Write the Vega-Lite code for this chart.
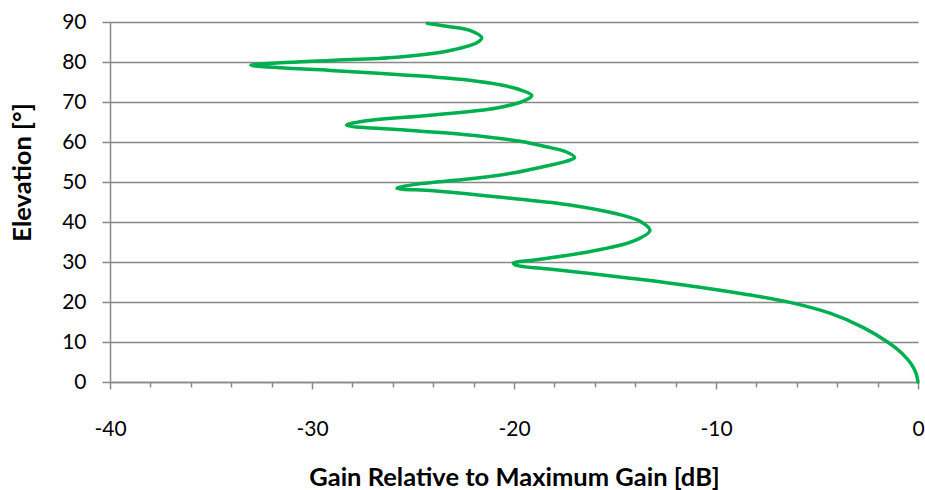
{
  "$schema": "https://vega.github.io/schema/vega-lite/v6.json",
  "width": 808,
  "height": 360,
  "autosize": {"type": "none"},
  "padding": {"left": 110, "top": 22, "right": 7, "bottom": 108},
  "background": "white",
  "config": {"view": {"stroke": null}, "font": "Lato"},
  "data": {
    "values": [
      {"i": 0, "gain": 0, "elev": 0},
      {"i": 1, "gain": -0.1, "elev": 2.2},
      {"i": 2, "gain": -0.35, "elev": 4.6},
      {"i": 3, "gain": -0.8, "elev": 7.2},
      {"i": 4, "gain": -1.45, "elev": 9.8},
      {"i": 5, "gain": -2.7, "elev": 13.6},
      {"i": 6, "gain": -4.36, "elev": 17.2},
      {"i": 7, "gain": -6.34, "elev": 19.9},
      {"i": 8, "gain": -8.48, "elev": 21.9},
      {"i": 9, "gain": -11.78, "elev": 24.4},
      {"i": 10, "gain": -15.08, "elev": 26.45},
      {"i": 11, "gain": -18.38, "elev": 28.3},
      {"i": 12, "gain": -19.87, "elev": 29.15},
      {"i": 13, "gain": -20.03, "elev": 29.7},
      {"i": 14, "gain": -19.0, "elev": 30.5},
      {"i": 15, "gain": -16.57, "elev": 32.3},
      {"i": 16, "gain": -14.09, "elev": 35.2},
      {"i": 17, "gain": -13.27, "elev": 37.9},
      {"i": 18, "gain": -13.76, "elev": 40.2},
      {"i": 19, "gain": -14.92, "elev": 42.05},
      {"i": 20, "gain": -17.4, "elev": 44.4},
      {"i": 21, "gain": -20.9, "elev": 46.3},
      {"i": 22, "gain": -23.99, "elev": 47.8},
      {"i": 23, "gain": -25.8, "elev": 48.45},
      {"i": 24, "gain": -24.6, "elev": 49.6},
      {"i": 25, "gain": -22.5, "elev": 50.6},
      {"i": 26, "gain": -20.0, "elev": 52.3},
      {"i": 27, "gain": -18.4, "elev": 54.0},
      {"i": 28, "gain": -17.4, "elev": 55.2},
      {"i": 29, "gain": -17.0, "elev": 56.1},
      {"i": 30, "gain": -17.4, "elev": 57.5},
      {"i": 31, "gain": -18.4, "elev": 58.8},
      {"i": 32, "gain": -19.7, "elev": 60.2},
      {"i": 33, "gain": -22.5, "elev": 61.9},
      {"i": 34, "gain": -25.8, "elev": 63.1},
      {"i": 35, "gain": -28.3, "elev": 64.2},
      {"i": 36, "gain": -27.46, "elev": 65.2},
      {"i": 37, "gain": -24.16, "elev": 66.7},
      {"i": 38, "gain": -20.86, "elev": 68.5},
      {"i": 39, "gain": -19.37, "elev": 70.6},
      {"i": 40, "gain": -19.12, "elev": 71.6},
      {"i": 41, "gain": -20.03, "elev": 73.55},
      {"i": 42, "gain": -22.5, "elev": 75.6},
      {"i": 43, "gain": -25.8, "elev": 76.9},
      {"i": 44, "gain": -29.1, "elev": 77.9},
      {"i": 45, "gain": -31.58, "elev": 78.55},
      {"i": 46, "gain": -33.03, "elev": 79.2},
      {"i": 47, "gain": -31.58, "elev": 79.8},
      {"i": 48, "gain": -29.1, "elev": 80.4},
      {"i": 49, "gain": -25.8, "elev": 81.2},
      {"i": 50, "gain": -23.33, "elev": 82.7},
      {"i": 51, "gain": -21.85, "elev": 84.8},
      {"i": 52, "gain": -21.6, "elev": 86.05},
      {"i": 53, "gain": -22.18, "elev": 87.9},
      {"i": 54, "gain": -23.33, "elev": 88.95},
      {"i": 55, "gain": -24.3, "elev": 89.7}
    ]
  },
  "mark": {"type": "line", "color": "#00b050", "strokeWidth": 3.5, "interpolate": "catmull-rom", "strokeCap": "round", "strokeJoin": "round"},
  "encoding": {
    "x": {
      "field": "gain",
      "type": "quantitative",
      "scale": {"domain": [-40, 0], "nice": false, "zero": false},
      "axis": {
        "title": "Gain Relative to Maximum Gain [dB]",
        "values": [-40, -38, -36, -34, -32, -30, -28, -26, -24, -22, -20, -18, -16, -14, -12, -10, -8, -6, -4, -2, 0],
        "labelExpr": "datum.value % 10 === 0 ? '' + datum.value : ''",
        "tickSize": {"condition": {"test": "datum.value % 10 === 0", "value": 7}, "value": 5},
        "tickColor": "#888888",
        "tickWidth": 1.5,
        "domainColor": "#888888",
        "domainWidth": 1.5,
        "grid": false,
        "labelFontSize": 21,
        "labelPadding": 29,
        "labelColor": "#000000",
        "labelFlush": false,
        "labelOverlap": false,
        "titleFontSize": 25.5,
        "titleFontWeight": "bold",
        "titleColor": "#000000",
        "titlePadding": 26
      }
    },
    "y": {
      "field": "elev",
      "type": "quantitative",
      "scale": {"domain": [0, 90], "nice": false},
      "axis": {
        "title": "Elevation [°]",
        "values": [0, 10, 20, 30, 40, 50, 60, 70, 80, 90],
        "grid": true,
        "gridColor": "#888888",
        "gridWidth": 1.3,
        "tickSize": 8,
        "tickColor": "#888888",
        "tickWidth": 1.5,
        "domainColor": "#888888",
        "domainWidth": 1.5,
        "labelFontSize": 21,
        "labelPadding": 16,
        "labelColor": "#000000",
        "labelFlush": false,
        "labelOverlap": false,
        "titleFontSize": 25.5,
        "titleFontWeight": "bold",
        "titleColor": "#000000",
        "titleX": -88,
        "titleY": 150,
        "titleBaseline": "middle"
      }
    },
    "order": {"field": "i", "type": "quantitative"}
  }
}
